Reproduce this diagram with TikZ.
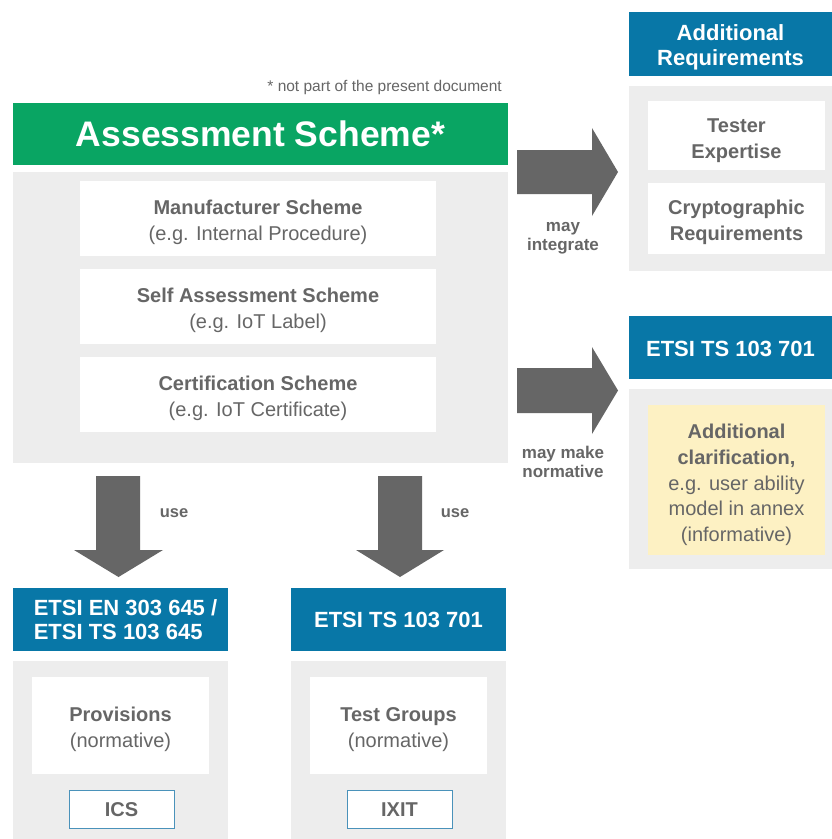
\documentclass[tikz,border=0pt]{standalone}
\usepackage{fontspec}
\setmainfont{Liberation Sans}
\definecolor{etsigreen}{HTML}{09A563}
\definecolor{etsiblue}{HTML}{0877A7}
\definecolor{panelgrey}{HTML}{EDEDED}
\definecolor{txtgrey}{HTML}{666666}
\definecolor{arrowgrey}{HTML}{666666}
\definecolor{paleyellow}{HTML}{FDF1C3}
\definecolor{icsborder}{HTML}{4A92BA}
\tikzset{
  box/.style={inner sep=0pt, outer sep=0pt, align=center},
  hdr/.style={box, fill=etsiblue},
  hdrtxt/.style={box, text=white, font=\bfseries\fontsize{22}{25}\selectfont},
  panel/.style={box, fill=panelgrey},
  whitebox/.style={box, fill=white},
  bodytxt/.style={box, text=txtgrey, font=\fontsize{20}{26}\selectfont},
  yellowbox/.style={box, fill=paleyellow},
  tagbox/.style={box, fill=white, draw=icsborder, line width=0.8pt, text=txtgrey, font=\bfseries\fontsize{20}{24}\selectfont},
  lbl/.style={inner sep=0pt, text=txtgrey, align=center, font=\bfseries\fontsize{17}{19}\selectfont},
  blockarrow/.style={fill=arrowgrey}
}
\begin{document}
\begin{tikzpicture}[x=1pt,y=-1pt]
\useasboundingbox (0,0) rectangle (832,839);
\fill[white] (0,0) rectangle (832,839);

% note
\node[inner sep=0pt, anchor=east, text=txtgrey, font=\fontsize{15.5}{18}\selectfont] (note) at (502,87) {* not part of the present document};

% Assessment scheme
\node[box, fill=etsigreen, text=white, minimum width=495, minimum height=62, font=\bfseries\fontsize{35.5}{40}\selectfont] (as) at (260.5,133.5) {Assessment Scheme*};
\node[panel, minimum width=495, minimum height=291] (asp) at (260.5,317.5) {};
\node[whitebox, minimum width=356, minimum height=75] (man) at (258,218.5) {};
\node[bodytxt] (mant) at (258,222.5) {\textbf{Manufacturer Scheme}\\(e.g. Internal Procedure)};
\node[whitebox, minimum width=356, minimum height=75] (self) at (258,306.5) {};
\node[bodytxt] (selft) at (258,310.5) {\textbf{Self Assessment Scheme}\\(e.g. IoT Label)};
\node[whitebox, minimum width=356, minimum height=75] (cert) at (258,394.5) {};
\node[bodytxt] (certt) at (258,398.5) {\textbf{Certification Scheme}\\(e.g. IoT Certificate)};

% Additional requirements
\node[hdr, minimum width=203, minimum height=64] (addh) at (730.5,44) {};
\node[hdrtxt] (addht) at (730.5,47) {Additional\\Requirements};
\node[panel, minimum width=203, minimum height=185] (addp) at (730.5,178.5) {};
\node[whitebox, minimum width=177, minimum height=69] (tester) at (736.5,135.5) {};
\node[bodytxt, font=\bfseries\fontsize{20}{26}\selectfont] (testert) at (736.5,140.5) {Tester\\Expertise};
\node[whitebox, minimum width=177, minimum height=71] (crypto) at (736.5,218.5) {};
\node[bodytxt, font=\bfseries\fontsize{20}{26}\selectfont] (cryptot) at (736.5,222.5) {Cryptographic\\Requirements};

% ETSI TS 103 701 right
\node[hdr, minimum width=203, minimum height=63] (rh) at (730.5,347.5) {};
\node[hdrtxt] (rht) at (730.5,348.5) {ETSI TS 103 701};
\node[panel, minimum width=203, minimum height=180] (rp) at (730.5,479) {};
\node[yellowbox, minimum width=177, minimum height=150] (clar) at (736.5,480) {};
\node[bodytxt, font=\fontsize{20}{25.7}\selectfont] (clart) at (736.5,485) {\textbf{Additional}\\\textbf{clarification,}\\e.g. user ability\\model in annex\\(informative)};

% bottom left
\node[hdr, minimum width=215, minimum height=63] (blh) at (120.5,619.5) {};
\node[hdrtxt, align=left, font=\bfseries\fontsize{22}{24}\selectfont] (blht) at (125.5,620) {ETSI EN 303 645 /\\ETSI TS 103 645};
\node[panel, minimum width=215, minimum height=178] (blp) at (120.5,750) {};
\node[whitebox, minimum width=177, minimum height=97] (prov) at (120.5,725.5) {};
\node[bodytxt] (provt) at (120.5,729.5) {\textbf{Provisions}\\(normative)};
\node[tagbox, minimum width=105, minimum height=38] (ics) at (121.5,809) {};
\node[bodytxt, font=\bfseries\fontsize{20}{24}\selectfont] (icst) at (121.5,810) {ICS};

% bottom middle
\node[hdr, minimum width=215, minimum height=63] (bmh) at (398.5,619.5) {};
\node[hdrtxt] (bmht) at (398.5,620) {ETSI TS 103 701};
\node[panel, minimum width=215, minimum height=178] (bmp) at (398.5,750) {};
\node[whitebox, minimum width=177, minimum height=97] (tg) at (398.5,725.5) {};
\node[bodytxt] (tgt) at (398.5,729.5) {\textbf{Test Groups}\\(normative)};
\node[tagbox, minimum width=105, minimum height=38] (ixit) at (399.5,809) {};
\node[bodytxt, font=\bfseries\fontsize{20}{24}\selectfont] (ixitt) at (399.5,810) {IXIT};

% block arrows
\fill[blockarrow] (517,150) -- (592,150) -- (592,128) -- (618,172) -- (592,216) -- (592,194) -- (517,194) -- cycle;
\fill[blockarrow] (517,368) -- (592,368) -- (592,347) -- (618,390.5) -- (592,434) -- (592,413) -- (517,413) -- cycle;
\fill[blockarrow] (96,476) -- (140,476) -- (140,550) -- (163,550) -- (118.5,577) -- (74,550) -- (96,550) -- cycle;
\fill[blockarrow] (378,476) -- (422,476) -- (422,550) -- (444,550) -- (400,577) -- (356,550) -- (378,550) -- cycle;

% labels
\node[lbl] (l1) at (563,238) {may\\integrate};
\node[lbl] (l2) at (563,462) {may make\\normative};
\node[lbl, font=\bfseries\fontsize{16.5}{19}\selectfont] (u1) at (174,513) {use};
\node[lbl, font=\bfseries\fontsize{16.5}{19}\selectfont] (u2) at (455,513) {use};
\end{tikzpicture}
\end{document}
